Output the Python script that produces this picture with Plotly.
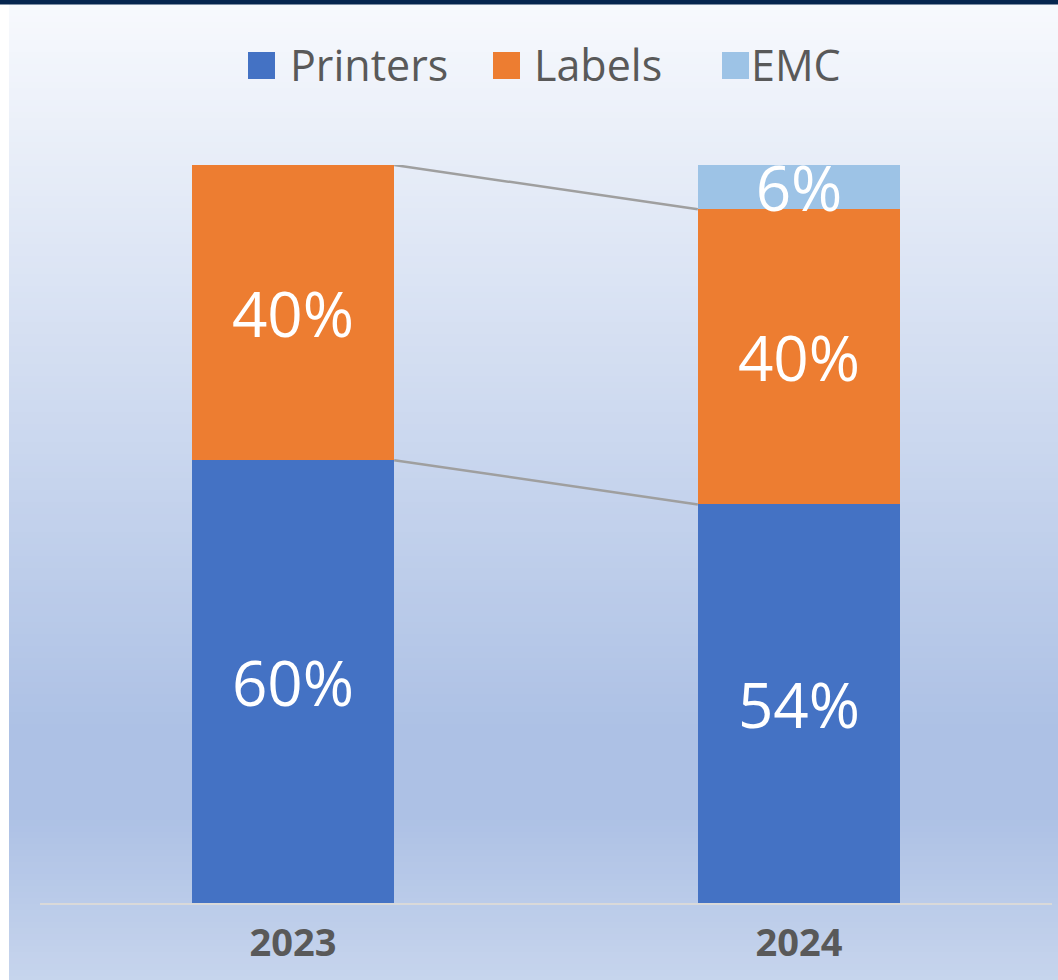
import plotly.graph_objects as go

years = ["2023", "2024"]
printers = [60, 54]
labels = [40, 40]
emc = [0, 6]
series_names = ["Printers", "Labels", "EMC"]
series_colors = ["#4472C4", "#ED7D31", "#9DC3E6"]

W, H = 1058, 980
ML, MR, MT, MB = 40, 6, 165, 77
PW, PH = W - ML - MR, H - MT - MB

def px_x(p):
    return (p - ML) / PW

def px_y(p):
    return (H - MB - p) / PH

xpos = list(range(len(years)))
bar_w = 0.4

fig = go.Figure()
values = [printers, labels, emc]
for name, vals, col in zip(series_names, values, series_colors):
    fig.add_trace(go.Bar(
        x=xpos, y=vals, name=name, width=bar_w,
        marker=dict(color=col, line=dict(width=0)),
        text=[f"{v}%" if v else "" for v in vals],
        textposition="inside", insidetextanchor="middle",
        textangle=0, constraintext="none",
        textfont=dict(family="Open Sans", size=62, color="white"),
        showlegend=False, hoverinfo="skip",
    ))

# series lines between stacked segment tops
cum_p = printers
cum_l = [a + b for a, b in zip(printers, labels)]
for cum in (cum_p, cum_l):
    fig.add_trace(go.Scatter(
        x=[xpos[0] + bar_w / 2, xpos[1] - bar_w / 2], y=cum,
        mode="lines", line=dict(color="#9f9f9f", width=2.5),
        showlegend=False, hoverinfo="skip",
    ))

# background gradient
def hex2rgb(h):
    h = h.lstrip("#")
    return tuple(int(h[i:i + 2], 16) for i in (0, 2, 4))

stops = [(0.0, "#F7F9FD"), (0.74, "#ADC1E5"), (0.83, "#ADC1E5"), (1.0, "#C7D5ED")]

def grad(t):
    for (t0, c0), (t1, c1) in zip(stops[:-1], stops[1:]):
        if t <= t1:
            f = (t - t0) / (t1 - t0) if t1 > t0 else 0
            a, b = hex2rgb(c0), hex2rgb(c1)
            return "rgb(%d,%d,%d)" % tuple(round(a[i] + (b[i] - a[i]) * f) for i in range(3))
    return stops[-1][1]

shapes = []
top, step = 4, 6
y = top
while y < H:
    y1 = min(y + step + 1, H)
    t = (y - top) / (H - top)
    shapes.append(dict(type="rect", xref="paper", yref="paper",
                       x0=px_x(9), x1=px_x(W + 2), y0=px_y(y1), y1=px_y(y),
                       fillcolor=grad(t), line=dict(width=0), layer="below"))
    y += step
shapes.append(dict(type="rect", xref="paper", yref="paper",
                   x0=px_x(-2), x1=px_x(W + 2), y0=px_y(4.5), y1=px_y(-2),
                   fillcolor="#06264F", line=dict(width=0), layer="above"))

# manual legend
leg_sq = [248, 493, 722]
leg_tx = [288, 532, 749]
annotations = []
for sq, tx, name, col in zip(leg_sq, leg_tx, series_names, series_colors):
    shapes.append(dict(type="rect", xref="paper", yref="paper",
                       x0=px_x(sq), x1=px_x(sq + 27), y0=px_y(79), y1=px_y(52),
                       fillcolor=col, line=dict(width=0), layer="above"))
    annotations.append(dict(xref="paper", yref="paper", x=px_x(tx), y=px_y(65),
                            xanchor="left", yanchor="middle", text=name, showarrow=False,
                            font=dict(family="Open Sans", size=43, color="#595959")))

fig.update_layout(
    width=W, height=H, barmode="stack",
    margin=dict(l=ML, r=MR, t=MT, b=MB, pad=0),
    paper_bgcolor="white", plot_bgcolor="rgba(0,0,0,0)",
    shapes=shapes, annotations=annotations, showlegend=False,
    xaxis=dict(range=[-0.5, 1.5], tickvals=xpos, ticktext=years,
               showgrid=False, zeroline=False, showline=True,
               linecolor="#D9D9D9", linewidth=2,
               ticks="outside", ticklen=5, tickcolor="rgba(0,0,0,0)",
               tickfont=dict(family="Open Sans", size=38, color="#595959", weight="bold"),
               fixedrange=True),
    yaxis=dict(range=[0, 100], visible=False, showgrid=False, zeroline=False, fixedrange=True),
)

fig.write_html("out.html", config={"displayModeBar": False},
               post_script="document.body.style.margin='0';document.body.style.overflow='hidden';")
